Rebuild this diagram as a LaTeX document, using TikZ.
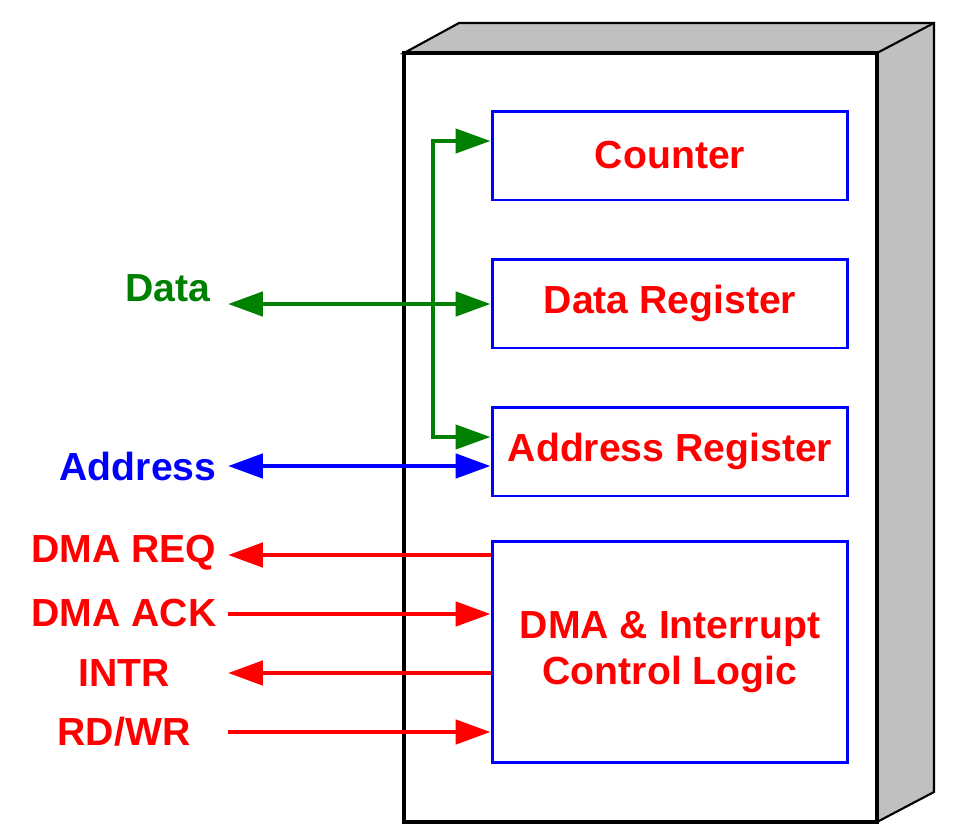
\documentclass[tikz,border=0pt]{standalone}
\usepackage{fontspec}
\setmainfont{Liberation Sans}
\usetikzlibrary{arrows.meta}
\definecolor{sigred}{RGB}{255,0,0}
\definecolor{sigblue}{RGB}{0,0,255}
\definecolor{siggreen}{RGB}{0,128,0}
\definecolor{facegray}{RGB}{192,192,192}
\tikzset{
  blk/.style={draw=sigblue, line width=1.7pt, text=sigred, fill=white,
    minimum width=7.12cm, minimum height=1.78cm, align=center,
    font=\fontsize{22.3}{26}\selectfont\bfseries},
  lbl/.style={font=\fontsize{22.3}{26}\selectfont\bfseries},
  sig/.style={line width=2.8pt, arrows={-Triangle[length=0.7cm,width=0.48cm]}},
  bisig/.style={sig, arrows={Triangle[length=0.7cm,width=0.48cm]-Triangle[length=0.7cm,width=0.48cm]}}
}
\begin{document}
\begin{tikzpicture}[x=0.02cm, y=-0.02cm]
            \useasboundingbox (0,0) rectangle (971,832);

            % --------------------------------------------------
            % Chip body (3D box)
            % --------------------------------------------------
            \draw[line width=1.2pt, fill=facegray] (404,53) -- (459,23) -- (934,23) -- (934,792) -- (877,822) -- (877,53) -- cycle;
            \draw[line width=1.2pt] (877,53) -- (934,23);
            \draw[line width=2pt, fill=white] (404,53) rectangle (877,822);

            % --------------------------------------------------
            % Internal blocks
            % --------------------------------------------------
            \node[blk] (cnt) at (670,155.5) {Counter};
            \node[blk] (dreg) at (670,303.5) {Data Register};
            \node[blk] (areg) at (670,451.5) {Address Register};
            \node[blk, minimum height=4.44cm] (dma) at (670,652) {DMA \& Interrupt\\Control Logic};

            % --------------------------------------------------
            % Pin labels
            % --------------------------------------------------
            \node[lbl, text=siggreen] (ldata) at (168,288) {Data};
            \node[lbl, text=sigblue] (laddr) at (138,466) {Address};
            \node[lbl, text=sigred] (lreq) at (124,553) {DMA REQ};
            \node[lbl, text=sigred] (lack) at (124,613) {DMA ACK};
            \node[lbl, text=sigred] (lintr) at (124,673) {INTR};
            \node[lbl, text=sigred] (lrdwr) at (124,732) {RD/WR};

            % free ends of the signal lines
            \coordinate (pdata) at (228,304);
            \coordinate (paddr) at (228,466);
            \coordinate (preq) at (228,555);
            \coordinate (pack) at (228,614);
            \coordinate (pintr) at (228,673);
            \coordinate (prdwr) at (228,732);
            \coordinate (btop) at (433,141);
            \coordinate (bbot) at (433,437);

            % --------------------------------------------------
            % Data bus (green)
            % --------------------------------------------------
            \draw[bisig, siggreen] (pdata) -- (pdata -| dreg.west);
            \draw[bisig, siggreen, line width=2.4pt] (btop -| cnt.west) -- (btop) -- (bbot) -- (bbot -| areg.west);

            % --------------------------------------------------
            % Address bus (blue)
            % --------------------------------------------------
            \draw[bisig, sigblue] (paddr) -- (paddr -| areg.west);

            % --------------------------------------------------
            % Control lines (red)
            % --------------------------------------------------
            \draw[sig, sigred] (preq -| dma.west) -- (preq);
            \draw[sig, sigred] (pack) -- (pack -| dma.west);
            \draw[sig, sigred] (pintr -| dma.west) -- (pintr);
            \draw[sig, sigred] (prdwr) -- (prdwr -| dma.west);

        \end{tikzpicture}
\end{document}
